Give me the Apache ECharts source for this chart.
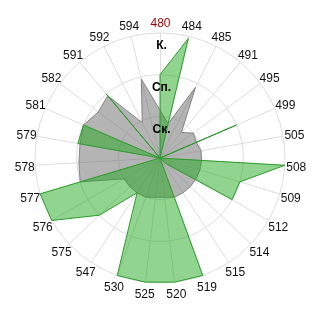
<!DOCTYPE html>
<html>
<head>
<meta charset="utf-8">
<script src="https://cdn.jsdelivr.net/npm/echarts@6/dist/echarts.min.js"></script>
<style>html,body{margin:0;padding:0;background:#fff}#c{width:320px;height:320px}</style>
</head>
<body>
<div id="c"></div>
<script>
// categories in clockwise order starting at the top
var categories = ['480','484','485','491','495','499','505','508','509','512','514','515','519','520','525','530','547','575','576','577','578','579','581','582','591','592','594'];
var grayValues = [1.15,0.85,1.9,0.8,1.0,0.95,1.0,1.0,1.0,1.0,1.0,1.0,1.0,0.95,0.95,1.0,1.0,1.0,1.0,2.0,1.95,1.95,2.0,1.85,1.95,0.95,1.95];
var greenValues = [2,2.95,0,0,0,2,0,3,2,2,0.2,0,3,3,3,3,1,2,3,3,0,2,2,0,2,0,0];
var levelLabels = ['', 'Ск.', 'Сп.', 'К.'];
var maxValue = 3;

// ECharts radar goes counter-clockwise; reorder so the chart reads clockwise
function cw(arr) { return [arr[0]].concat(arr.slice(1).reverse()); }

var cats = cw(categories);
var FONT = 'Liberation Sans, Arial, sans-serif';

function plainIndicators(color) {
  return cats.map(function (name, i) {
    var ind = { name: name, min: 0, max: maxValue };
    if (i === 0 && color) ind.color = color;
    return ind;
  });
}
var labelIndicators = plainIndicators();
labelIndicators[0].axisLabel = {
  show: true,
  margin: 0,
  align: 'center',
  verticalAlign: 'top',
  padding: [7, 0, 0, 3],
  color: '#000',
  fontWeight: 'bold',
  fontSize: 12,
  fontFamily: FONT,
  formatter: function (v) { return levelLabels[Math.round(v)] || ''; }
};

var hidden = {
  axisName: { show: false },
  axisLine: { show: false },
  splitLine: { show: false },
  splitArea: { show: false },
  axisTick: { show: false },
  axisLabel: { show: false }
};
function radarBase(extra) {
  var o = { center: [160, 158], radius: 125, shape: 'circle', splitNumber: 3, startAngle: 90 };
  for (var k in hidden) o[k] = hidden[k];
  for (var k2 in extra) o[k2] = extra[k2];
  return o;
}

var chart = echarts.init(document.getElementById('c'));
chart.setOption({
  animation: false,
  radar: [
    // grid (below the series)
    radarBase({
      axisLine: { lineStyle: { color: '#dcdcdc', width: 1 } },
      splitLine: { lineStyle: { color: '#dcdcdc', width: 1 } },
      indicator: plainIndicators()
    }),
    // category names, centred on a ring just outside the grid
    radarBase({
      center: [160.5, 159.5],
      nameGap: 11,
      axisName: { show: true, color: '#111', fontSize: 12, fontFamily: FONT, align: 'center', verticalAlign: 'middle' },
      indicator: plainIndicators('#990000')
    }),
    // level labels on top of the series
    radarBase({
      z: 5,
      indicator: labelIndicators
    })
  ],
  series: [{
    type: 'radar',
    radarIndex: 0,
    symbol: 'none',
    silent: true,
    data: [
      {
        value: cw(grayValues),
        lineStyle: { color: '#8a8a8a', width: 1 },
        areaStyle: { color: 'rgba(118,118,118,0.55)', opacity: 1 }
      },
      {
        value: cw(greenValues),
        lineStyle: { color: '#2f9a2f', width: 1 },
        areaStyle: { color: 'rgba(34,170,34,0.5)', opacity: 1 }
      }
    ]
  }]
});
</script>
</body>
</html>
